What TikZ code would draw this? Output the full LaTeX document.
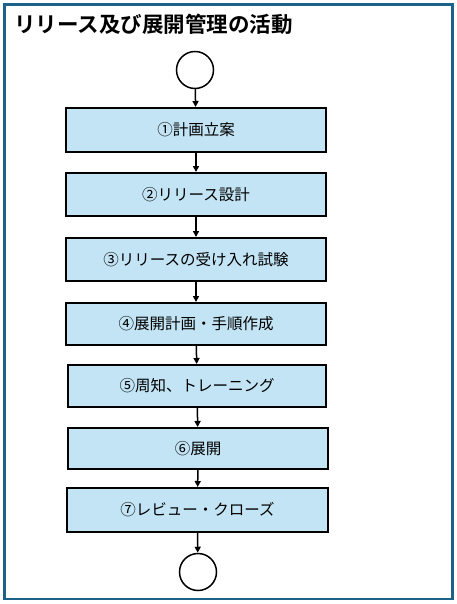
\documentclass[tikz,border=0pt]{standalone}
\usepackage{fontspec}
\setmainfont{Noto Sans CJK JP}
\newfontfamily\jpbold{Noto Sans CJK JP Bold}
\usetikzlibrary{arrows.meta}
\definecolor{framecol}{HTML}{1F6289}
\definecolor{boxfill}{HTML}{C2E4F4}
\tikzset{
  stepbox/.style={draw=black, line width=2pt, fill=boxfill, inner sep=0pt, font=\fontsize{15.5}{16}\selectfont},
  term/.style={draw=black, line width=1.5pt, circle, minimum size=37pt, inner sep=0pt, fill=white},
  flow/.style={-{Triangle[length=6pt,width=6pt]}, line width=1.5pt, draw=black}
}
\begin{document}
\begin{tikzpicture}[x=1pt,y=-1pt]
\useasboundingbox (0,0) rectangle (457,604);
\fill[white] (0,0) rectangle (457,604);
\draw[framecol, line width=2.5pt] (4.5,4.5) rectangle (452.5,599);
\node[anchor=west, font=\jpbold\fontsize{21.5}{22}\selectfont, inner sep=0pt] (title) at (14,24) {リリース及び展開管理の活動};
\node[term] (start) at (195,70) {};
\node[stepbox, minimum width=260pt, minimum height=44pt] (s1) at (196,130) {①計画立案};
\node[stepbox, minimum width=260pt, minimum height=43pt] (s2) at (196,194.5) {②リリース設計};
\node[stepbox, minimum width=260pt, minimum height=43pt] (s3) at (196,259.5) {③リリースの受け入れ試験};
\node[stepbox, minimum width=260pt, minimum height=42pt] (s4) at (196,324) {④展開計画・手順作成};
\node[stepbox, minimum width=258pt, minimum height=42pt] (s5) at (197,386) {⑤周知、トレーニング};
\node[stepbox, minimum width=260pt, minimum height=41pt] (s6) at (198,448.5) {⑥展開};
\node[stepbox, minimum width=261pt, minimum height=44pt] (s7) at (197.5,510) {⑦レビュー・クローズ};
\node[term] (end) at (198,572) {};
\draw[flow] (start) -- (s1);
\draw[flow] (s1) -- (s2);
\draw[flow] (s2) -- (s3);
\draw[flow] (s3) -- (s4);
\draw[flow] (s4) -- (s5);
\draw[flow] (s5) -- (s6);
\draw[flow] (s6) -- (s7);
\draw[flow] (s7.south) -- (end);
\end{tikzpicture}
\end{document}
